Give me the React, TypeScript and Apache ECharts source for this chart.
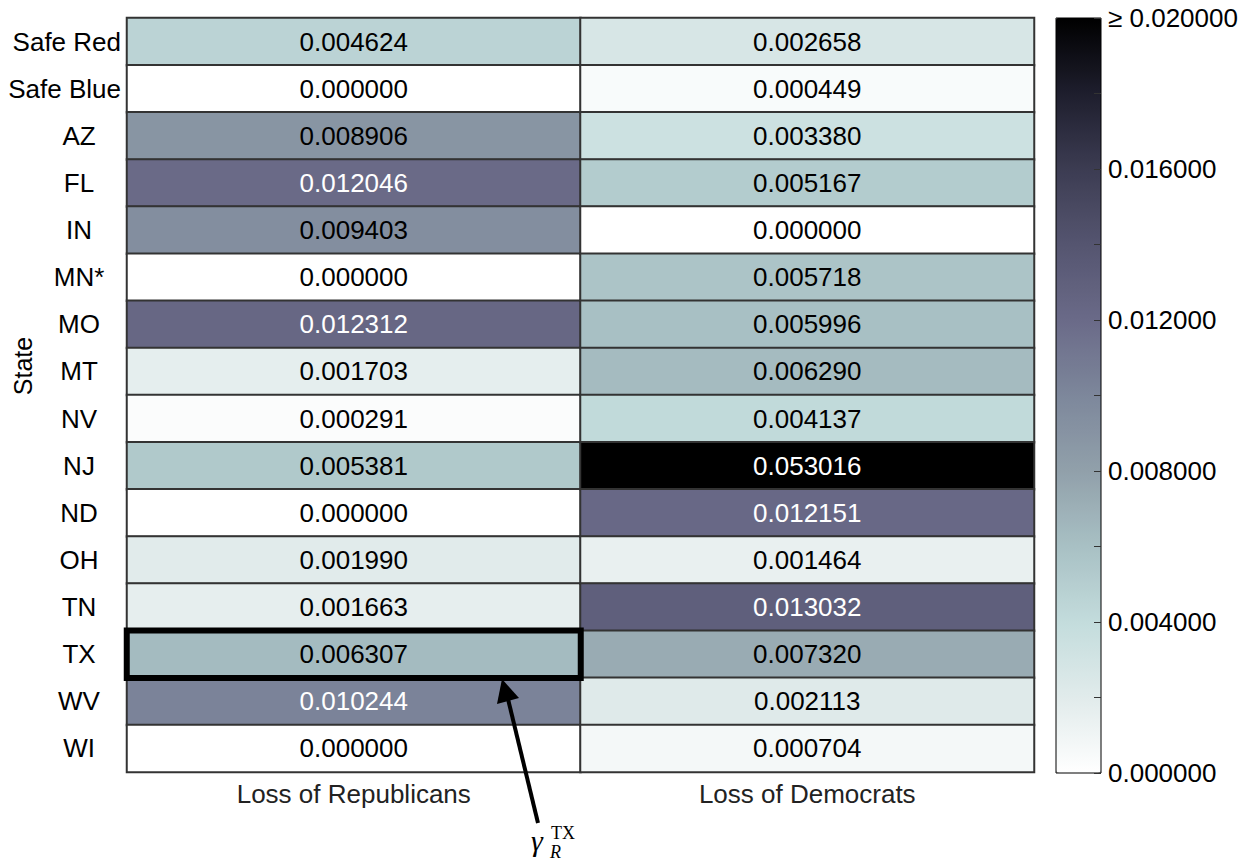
import React, { useEffect, useRef } from 'react';
import * as echarts from 'echarts';

const states = ['Safe Red', 'Safe Blue', 'AZ', 'FL', 'IN', 'MN*', 'MO', 'MT', 'NV', 'NJ', 'ND', 'OH', 'TN', 'TX', 'WV', 'WI'];
const columns = ['Loss of Republicans', 'Loss of Democrats'];
const lossRepublicans = [0.004624, 0.0, 0.008906, 0.012046, 0.009403, 0.0, 0.012312, 0.001703, 0.000291, 0.005381, 0.0, 0.00199, 0.001663, 0.006307, 0.010244, 0.0];
const lossDemocrats = [0.002658, 0.000449, 0.00338, 0.005167, 0.0, 0.005718, 0.005996, 0.00629, 0.004137, 0.053016, 0.012151, 0.001464, 0.013032, 0.00732, 0.002113, 0.000704];
const colorbarMin = 0;
const colorbarMax = 0.02;
const colorbarStep = 0.004;
const highlighted = { state: 'TX', column: 'Loss of Republicans' };
// colour stops sampled from the reference colour bar, from min to max (every 0.002)
const colorStops = ['#ffffff', '#e1ebeb', '#c3dcdc', '#a8c0c4', '#91a0aa', '#7d879b', '#6a6a88', '#555570', '#3c3c52', '#1e1e2d', '#000000'];

const FONT = '"Liberation Sans", Arial, Helvetica, sans-serif';
const SERIF = '"Liberation Serif", "DejaVu Serif", serif';

export default function App() {
  const ref = useRef<HTMLDivElement>(null);
  useEffect(() => {
    const chart = echarts.init(ref.current!, null, { renderer: 'svg' });
    const data: any[] = [];
    let hi: any = null;
    [lossRepublicans, lossDemocrats].forEach((col, xi) => {
      col.forEach((v, yi) => {
        const item: any = { value: [xi, yi, v], label: { color: v >= 0.01 ? '#ffffff' : '#000000' } };
        if (states[yi] === highlighted.state && columns[xi] === highlighted.column) {
          hi = { ...item, itemStyle: { borderColor: '#000', borderWidth: 6 } };
        } else {
          data.push(item);
        }
      });
    });
    if (hi) data.push(hi);

    chart.setOption({
      animation: false,
      textStyle: { fontFamily: FONT },
      grid: [
        { left: 127, right: 219, top: 18, bottom: 89 },
        { left: 1056, right: 152, top: 18, bottom: 88, show: true, borderColor: '#000', borderWidth: 1, backgroundColor: 'transparent', z: 10 },
      ],
      xAxis: [
        {
          gridIndex: 0, type: 'category', data: columns,
          axisLine: { show: false }, axisTick: { show: false }, splitLine: { show: false },
          axisLabel: { margin: 9, fontSize: 26, color: '#222', fontFamily: FONT },
        },
        { gridIndex: 1, type: 'category', data: [''], show: false },
      ],
      yAxis: [
        {
          gridIndex: 0, type: 'category', data: states, inverse: true,
          axisLine: { show: false }, axisTick: { show: false }, splitLine: { show: false },
          axisLabel: {
            align: 'right', margin: 6,
            formatter: (v: string) => (v.startsWith('Safe') ? `{w|${v}}` : `{c|${v}}`),
            rich: {
              w: { fontSize: 26, fontFamily: FONT, color: '#000' },
              c: { width: 84, align: 'center', fontSize: 26, fontFamily: FONT, color: '#000' },
            },
          },
        },
        {
          gridIndex: 1, type: 'value', min: colorbarMin, max: colorbarMax, interval: colorbarStep,
          position: 'right', z: 11,
          axisLine: { show: false }, splitLine: { show: false },
          axisTick: { show: true, inside: true, length: 7, lineStyle: { color: '#333' } },
          minorTick: { show: true, splitNumber: 2, length: 7, lineStyle: { color: '#333' } },
          axisLabel: {
            margin: 7, fontSize: 26, color: '#000', fontFamily: FONT,
            showMinLabel: true, showMaxLabel: true,
            formatter: (v: number) => (v >= colorbarMax ? '≥ ' + v.toFixed(6) : v.toFixed(6)),
          },
        },
      ],
      visualMap: {
        type: 'continuous', seriesIndex: 0, dimension: 2, min: colorbarMin, max: colorbarMax,
        calculable: false, hoverLink: false, orient: 'vertical',
        left: 1056, top: 18, itemWidth: 45, itemHeight: 755, padding: 0,
        inRange: { color: colorStops }, outOfRange: { color: '#000000' },
      },
      series: [
        {
          type: 'heatmap', xAxisIndex: 0, yAxisIndex: 0, data,
          itemStyle: { borderColor: '#333', borderWidth: 2 },
          label: {
            show: true, fontSize: 26, fontFamily: FONT,
            formatter: (p: any) => p.value[2].toFixed(6),
          },
          emphasis: { disabled: true },
        },
      ],
      graphic: [
        {
          type: 'text', x: 23, y: 366, rotation: Math.PI / 2, z: 100,
          style: { text: 'State', font: `25px ${FONT}`, fill: '#000', align: 'center', verticalAlign: 'middle' },
        },
        { type: 'line', z: 100, shape: { x1: 538, y1: 823, x2: 508, y2: 699 }, style: { stroke: '#000', lineWidth: 4 } },
        { type: 'polygon', z: 100, shape: { points: [[502, 679], [497, 704], [519, 698]] }, style: { fill: '#000' } },
        { type: 'text', z: 100, x: 531, y: 840, style: { text: 'γ', font: `italic 30px ${SERIF}`, fill: '#000', verticalAlign: 'middle' } },
        { type: 'text', z: 100, x: 551, y: 833, style: { text: 'TX', font: `18px ${SERIF}`, fill: '#000', verticalAlign: 'middle' } },
        { type: 'text', z: 100, x: 550, y: 852, style: { text: 'R', font: `italic 18px ${SERIF}`, fill: '#000', verticalAlign: 'middle' } },
      ],
    });
    return () => chart.dispose();
  }, []);
  return <div ref={ref} style={{ position: 'absolute', left: 0, top: 0, width: 1253, height: 861 }} />;
}
